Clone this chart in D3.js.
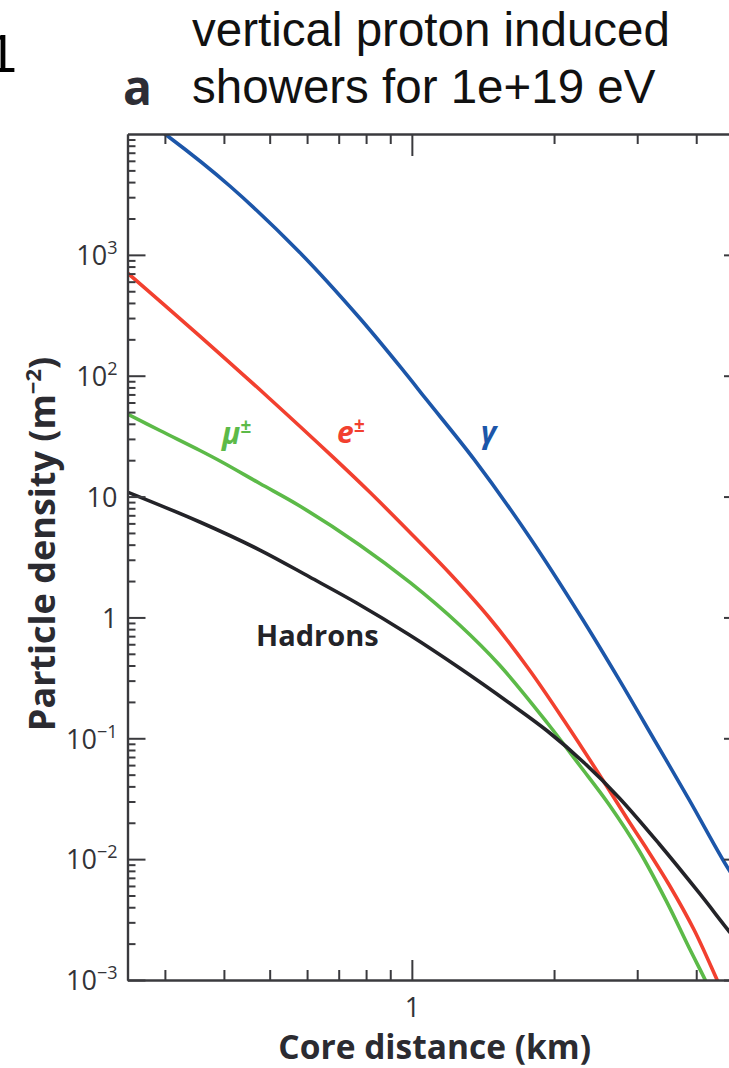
<!DOCTYPE html>
<html><head><meta charset="utf-8">
<script src="https://cdn.jsdelivr.net/npm/d3@7"></script>
<style>body{margin:0;background:#fff;} svg{display:block;}</style>
</head><body>
<script>
// ---------- data ----------
const gammaX = [0.25, 0.3059, 0.4117, 0.579, 0.7752, 0.9652, 1.075, 1.357, 1.774, 2.296, 2.749, 3.262, 3.866, 4.584, 5.0];
const gammaY = [16400, 9445, 3712, 1046, 300, 107, 63, 20.1, 4.63, 0.97, 0.304, 0.0968, 0.0309, 0.00947, 0.00556];

const electronX = [0.25, 0.2928, 0.3557, 0.4955, 0.68, 0.814, 0.9888, 1.201, 1.46, 1.774, 2.103, 2.458, 2.886, 3.105, 3.507, 3.96, 4.429, 4.65];
const electronY = [708, 415, 213, 66.7, 21.3, 10.9, 5.09, 2.33, 0.989, 0.3673, 0.139, 0.0547, 0.0203, 0.0131, 0.00611, 0.00259, 0.001, 0.000658];

const muonX = [0.25, 0.2928, 0.356, 0.396, 0.4766, 0.579, 0.7752, 0.9938, 1.262, 1.533, 1.936, 2.263, 2.619, 3.03, 3.456, 3.885, 4.18, 4.387];
const muonY = [48.2, 35.2, 24.06, 19.33, 12.83, 8.36, 3.98, 1.93, 0.866, 0.4042, 0.1338, 0.0601, 0.02806, 0.01168, 0.00451, 0.00177, 0.001, 0.000658];

const hadronX = [0.25, 0.3557, 0.4766, 0.6076, 0.764, 0.989, 1.262, 1.609, 1.936, 2.319, 2.749, 3.34, 4.058, 4.673, 5.0];
const hadronY = [10.9, 6.16, 3.61, 2.16, 1.317, 0.716, 0.3816, 0.1959, 0.1149, 0.0625, 0.0321, 0.01335, 0.00525, 0.00259, 0.001875];

const seriesNames = ["γ", "e", "μ", "Hadrons"];
const seriesColors = ["#1c56a9", "#f2402f", "#5cba48", "#232328"];

const xDomain = [0.25, 5];
const yDomain = [1e-3, 1e4];
const xMajorTicks = [1];
const xTickLabels = ["1"];
const yMajorTicks = [1e-3, 1e-2, 1e-1, 1, 10, 100, 1000];
const yTickBase = ["10", "10", "10", "1", "10", "10", "10"];
const yTickExp  = ["−3", "−2", "−1", "", "", "2", "3"];

const titleLines = ["vertical proton induced", "showers for 1e+19 eV"];
const xTitle = "Core distance (km)";
const yTitle = "Particle density (m";

// ---------- drawing ----------
const W = 729, H = 1068;
const plot = {left: 127.5, right: 742, top: 134, bottom: 980};
const svg = d3.select("body").append("svg").attr("width", W).attr("height", H)
  .style("font-family", "'Open Sans', 'Noto Sans', sans-serif");

const x = d3.scaleLog().domain(xDomain).range([plot.left, plot.right]);
const y = d3.scaleLog().domain(yDomain).range([plot.bottom, plot.top]);

const xMinorTicks = [];
[0.1, 1].forEach(dec => d3.range(2, 10).forEach(k => { const v = k * dec; if (v >= xDomain[0] && v <= xDomain[1]) xMinorTicks.push(v); }));
const yMinorTicks = [];
[1e-3, 1e-2, 1e-1, 1, 10, 100, 1000].forEach(dec => d3.range(2, 10).forEach(k => yMinorTicks.push(k * dec)));

const axisColor = "#3a3a3e";
function styleAxis(g) {
  g.select(".domain").attr("stroke", axisColor).attr("stroke-width", 2.2);
  g.selectAll(".tick line").attr("stroke", axisColor).attr("stroke-width", 2);
}

// clip
svg.append("clipPath").attr("id", "clip").append("rect")
  .attr("x", plot.left).attr("y", plot.top)
  .attr("width", plot.right - plot.left).attr("height", plot.bottom - plot.top);

// lines
const allSeries = [[gammaX, gammaY], [electronX, electronY], [muonX, muonY], [hadronX, hadronY]];
const line = d3.line().x(d => x(d[0])).y(d => y(d[1])).curve(d3.curveCatmullRom.alpha(0.5));
svg.append("g").attr("clip-path", "url(#clip)")
  .selectAll("path").data(allSeries).join("path")
  .attr("d", s => line(s[0].map((v, i) => [v, s[1][i]])))
  .attr("fill", "none")
  .attr("stroke", (s, i) => seriesColors[i])
  .attr("stroke-width", 3.6)
  .attr("stroke-linejoin", "round");

// left axis
const gLm = svg.append("g").attr("transform", `translate(${plot.left},0)`)
  .call(d3.axisLeft(y).tickValues(yMinorTicks).tickSize(-8).tickSizeOuter(0).tickFormat(""));
styleAxis(gLm);
const gL = svg.append("g").attr("transform", `translate(${plot.left},0)`)
  .call(d3.axisLeft(y).tickValues(yMajorTicks).tickSize(-18).tickSizeOuter(0).tickPadding(10).tickFormat(""));
styleAxis(gL);
gL.selectAll(".tick text").each(function(d, i) {
  const t = d3.select(this).attr("font-size", 27).attr("fill", "#333338")
    .attr("font-family", "'Open Sans', sans-serif").attr("dy", "0.36em");
  t.text(null);
  t.append("tspan").text(yTickBase[i]);
  if (yTickExp[i]) t.append("tspan").attr("font-size", 18).attr("dy", -11).text(yTickExp[i]);
});

// right axis (mostly outside the viewport)
const gRm = svg.append("g").attr("transform", `translate(${plot.right},0)`)
  .call(d3.axisRight(y).tickValues(yMinorTicks).tickSize(-8).tickSizeOuter(0).tickFormat(""));
styleAxis(gRm);
const gR = svg.append("g").attr("transform", `translate(${plot.right},0)`)
  .call(d3.axisRight(y).tickValues(yMajorTicks).tickSize(-18).tickSizeOuter(0).tickFormat(""));
styleAxis(gR);

// bottom axis
const gBm = svg.append("g").attr("transform", `translate(0,${plot.bottom})`)
  .call(d3.axisBottom(x).tickValues(xMinorTicks).tickSize(-10).tickSizeOuter(0).tickFormat(""));
styleAxis(gBm);
const gB = svg.append("g").attr("transform", `translate(0,${plot.bottom})`)
  .call(d3.axisBottom(x).tickValues(xMajorTicks).tickSize(-20).tickSizeOuter(0).tickPadding(18)
    .tickFormat((d, i) => xTickLabels[i]));
styleAxis(gB);
gB.selectAll(".tick text").attr("font-size", 27).attr("fill", "#333338").attr("font-family", "'Open Sans', sans-serif");

// top axis
const gTm = svg.append("g").attr("transform", `translate(0,${plot.top})`)
  .call(d3.axisTop(x).tickValues(xMinorTicks).tickSize(-10).tickSizeOuter(0).tickFormat(""));
styleAxis(gTm);
const gT = svg.append("g").attr("transform", `translate(0,${plot.top})`)
  .call(d3.axisTop(x).tickValues(xMajorTicks).tickSize(-22).tickSizeOuter(0).tickFormat(""));
styleAxis(gT);

// axis titles
svg.append("text").attr("x", (plot.left + plot.right) / 2).attr("y", 1059)
  .attr("text-anchor", "middle").attr("font-weight", 700).attr("font-size", 33.5)
  .attr("fill", "#2b2b31").text(xTitle);
const yt = svg.append("text").attr("transform", "translate(55,544) rotate(-90)")
  .attr("text-anchor", "middle").attr("font-weight", 700).attr("font-size", 36)
  .attr("fill", "#2b2b31");
yt.append("tspan").text(yTitle);
yt.append("tspan").attr("font-size", 22).attr("dy", -14).text("−2");
yt.append("tspan").attr("dy", 14).text(")");

// series labels
const lab = svg.append("g").attr("font-weight", 700);
function supLabel(px, py, base, color) {
  const t = lab.append("text").attr("x", px).attr("y", py).attr("fill", color)
    .attr("font-style", "italic").attr("font-size", 30);
  t.append("tspan").text(base);
  t.append("tspan").attr("font-size", 19).attr("dy", -11).text("±");
  return t;
}
supLabel(222, 444, "μ", seriesColors[2]);
supLabel(337, 443, "e", seriesColors[1]);
lab.append("text").attr("x", 481).attr("y", 443).attr("fill", seriesColors[0])
  .attr("font-style", "italic").attr("font-size", 30).text("γ");
lab.append("text").attr("x", 256).attr("y", 646).attr("fill", seriesColors[3])
  .attr("font-size", 29).text(seriesNames[3]);

// panel letter and title
svg.append("text").attr("x", 123).attr("y", 105).attr("font-weight", 700)
  .attr("font-size", 48).attr("fill", "#2d2d35").text("a");
svg.append("text").attr("x", -13).attr("y", 72).attr("font-size", 54)
  .attr("font-family", "'Liberation Sans', Arial, sans-serif").attr("fill", "#000").text("1");
const tt = svg.append("text").attr("font-family", "'Liberation Sans', Arial, sans-serif")
  .attr("font-size", 47.5).attr("fill", "#111");
titleLines.forEach((s, i) => tt.append("tspan").attr("x", 192).attr("y", 46 + i * 57).text(s));
</script>
</body></html>
